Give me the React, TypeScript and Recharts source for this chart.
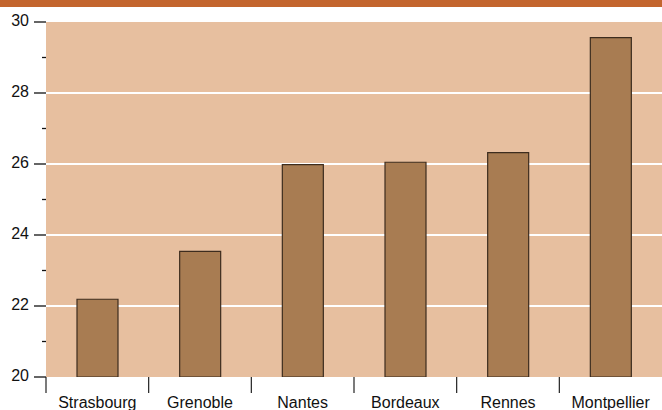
import { BarChart, Bar, XAxis, YAxis, CartesianGrid } from 'recharts'

const cities = ['Strasbourg', 'Grenoble', 'Nantes', 'Bordeaux', 'Rennes', 'Montpellier']
const values = [22.19, 23.54, 25.98, 26.05, 26.32, 29.56]
const yTicks = [20, 21, 22, 23, 24, 25, 26, 27, 28, 29, 30]
const gridValues = [22, 24, 26, 28]

const data = cities.map((city, i) => ({ city, value: values[i] }))

const WIDTH = 662
const HEIGHT = 410
const AXIS_W = 46
const SLOT = (WIDTH - AXIS_W) / cities.length

const FONT = 'Liberation Sans, Arial, sans-serif'

// y ticks: long mark + label on even values, short mark on odd ones
// eslint-disable-next-line @typescript-eslint/no-explicit-any
function YTick({ x, y, payload }: any) {
  const major = payload.value % 2 === 0
  return (
    <g>
      <line x1={major ? x - 12 : x - 4} x2={x} y1={y} y2={y} stroke="#111" strokeWidth={1.3} />
      {major && (
        <text x={x - 17} y={y + 4} textAnchor="end" fontSize={16} fontFamily={FONT} fill="#111">
          {payload.value}
        </text>
      )}
    </g>
  )
}

// x ticks sit on the left edge of each category slot, label centred in the slot
// eslint-disable-next-line @typescript-eslint/no-explicit-any
function XTick({ x, y, payload }: any) {
  const left = x - SLOT / 2
  return (
    <g>
      <line x1={left} x2={left} y1={y} y2={y + 16} stroke="#222" strokeWidth={1.2} />
      <text x={x} y={y + 31} textAnchor="middle" fontSize={16} fontFamily={FONT} fill="#111">
        {payload.value}
      </text>
    </g>
  )
}

export default function App() {
  return (
    <div style={{ position: 'absolute', left: 0, top: 0, width: WIDTH, height: HEIGHT, background: '#fff' }}>
      <div style={{ position: 'absolute', left: 0, top: 0, width: WIDTH, height: 7, background: '#C3652D' }} />
      <BarChart
        width={WIDTH}
        height={HEIGHT}
        data={data}
        margin={{ top: 22, right: 0, bottom: 0, left: 0 }}
      >
        <CartesianGrid
          vertical={false}
          horizontalValues={gridValues}
          fill="#E7BF9F"
          stroke="#fff"
          strokeWidth={2}
        />
        <XAxis
          dataKey="city"
          height={33}
          axisLine={false}
          tickLine={false}
          tickSize={0}
          tickMargin={0}
          interval={0}
          tick={<XTick />}
        />
        <YAxis
          width={AXIS_W}
          domain={[20, 30]}
          ticks={yTicks}
          interval={0}
          allowDataOverflow
          axisLine={false}
          tickLine={false}
          tickSize={0}
          tickMargin={0}
          tick={<YTick />}
        />
        <Bar
          dataKey="value"
          barSize={41}
          fill="#A87C52"
          stroke="#3d2c1e"
          strokeWidth={1.2}
          isAnimationActive={false}
        />
      </BarChart>
    </div>
  )
}
